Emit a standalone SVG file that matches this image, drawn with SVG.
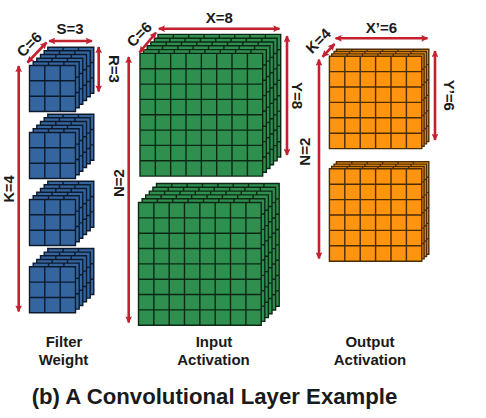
<svg xmlns="http://www.w3.org/2000/svg" xmlns:xlink="http://www.w3.org/1999/xlink" width="486" height="418" viewBox="0 0 486 418">
<style>
text{font-family:"Liberation Sans",Arial,sans-serif;font-size:15px;font-weight:bold;fill:#1a1a1a;text-anchor:middle}
.title{font-size:22.200px}
.arrow{stroke:#c4202f;stroke-width:2.600;fill:none;marker-start:url(#h);marker-end:url(#h)}
.l{stroke-width:1.400}
.blue{fill:#34659f;stroke:#0d1a2c}
.green{fill:#2f8f4f;stroke:#0c2815}
.orange{fill:#ff9410;stroke:#4a2c05}
</style>
<defs>
<marker id="h" viewBox="0 0 10 10" refX="9" refY="5" markerWidth="3" markerHeight="2.600" orient="auto-start-reverse"><path d="M0 0L10 5L0 10L1.500 5Z" fill="#c4202f"/></marker>
<g id="b"><path class="l" d="M0 0h46v46h-46zM15.3 0v46M30.7 0v46M0 15.3h46M0 30.7h46"/></g>
<g id="g"><path class="l" d="M0 0h122.700v122.700h-122.700zM15.340 0v122.700M30.680 0v122.700M46 0v122.700M61.350 0v122.700M76.700 0v122.700M92 0v122.700M107.400 0v122.700M0 15.340h122.700M0 30.680h122.700M0 46h122.700M0 61.350h122.700M0 76.700h122.700M0 92h122.700M0 107.400h122.700"/></g>
<g id="o"><path class="l" d="M0 0h92.400v92.400h-92.400zM15.400 0v92.400M30.800 0v92.400M46.200 0v92.400M61.600 0v92.400M77 0v92.400M0 15.400h92.400M0 30.800h92.400M0 46.200h92.400M0 61.600h92.400M0 77h92.400"/></g>
<g id="bs"><use href="#b" x="18.300" y="-18.300"/><use href="#b" x="14.700" y="-14.700"/><use href="#b" x="11" y="-11"/><use href="#b" x="7.300" y="-7.300"/><use href="#b" x="3.700" y="-3.700"/><use href="#b"/></g>
<g id="gs"><use href="#g" x="18" y="-19"/><use href="#g" x="14.400" y="-15.200"/><use href="#g" x="10.800" y="-11.400"/><use href="#g" x="7.200" y="-7.600"/><use href="#g" x="3.600" y="-3.800"/><use href="#g"/></g>
<g id="os"><use href="#o" x="7" y="-7"/><use href="#o" x="4.700" y="-4.700"/><use href="#o" x="2.300" y="-2.300"/><use href="#o"/></g>
</defs>
<rect width="486" height="418" fill="#fff"/>
<g id="filter-weight" class="blue">
<use href="#bs" x="29.500" y="65.500"/><use href="#bs" x="29.500" y="132.500"/><use href="#bs" x="29.500" y="199.500"/><use href="#bs" x="29.500" y="266.800"/>
</g>
<g id="input-activation" class="green">
<use href="#gs" x="140" y="53.400"/><use href="#gs" x="138.500" y="202.500"/>
</g>
<g id="output-activation" class="orange">
<use href="#os" x="329.400" y="56.200"/><use href="#os" x="329.400" y="168.800"/>
</g>
<g id="connectors">
<line class="arrow" x1="49" y1="41" x2="92" y2="41"/>
<line class="arrow" x1="27.500" y1="62.500" x2="46.500" y2="42.500"/>
<line class="arrow" x1="98.700" y1="47" x2="98.700" y2="91.500"/>
<line class="arrow" x1="18.700" y1="66" x2="18.700" y2="311.500"/>
<line class="arrow" x1="128.700" y1="57" x2="128.700" y2="322.500"/>
<line class="arrow" x1="158.800" y1="28.700" x2="279.500" y2="28.700"/>
<line class="arrow" x1="139.500" y1="52.500" x2="156" y2="32.500"/>
<line class="arrow" x1="287" y1="36" x2="287" y2="155"/>
<line class="arrow" x1="335.500" y1="38.300" x2="427.500" y2="38.300"/>
<line class="arrow" x1="322.500" y1="56.800" x2="334.500" y2="44"/>
<line class="arrow" x1="435" y1="51" x2="435" y2="140"/>
<line class="arrow" x1="319" y1="59.500" x2="319" y2="258.500"/>
</g>
<g id="labels">
<text x="70" y="33.500">S=3</text>
<text transform="translate(33 48) rotate(-45)">C=6</text>
<text transform="translate(108.500 69) rotate(90)">R=3</text>
<text transform="translate(13.500 189) rotate(-90)" style="font-size:14.500px">K=4</text>
<text transform="translate(124 183) rotate(-90)">N=2</text>
<text x="219.300" y="22.700">X=8</text>
<text transform="translate(143 38) rotate(-45)">C=6</text>
<text transform="translate(292 95.500) rotate(90)">Y=8</text>
<text x="381.500" y="32.700">X’=6</text>
<text transform="translate(322 44.500) rotate(-45)">K=4</text>
<text transform="translate(443.500 95.300) rotate(90)">Y’=6</text>
<text transform="translate(310 151.700) rotate(-90)">N=2</text>
<text x="64" y="347">Filter</text>
<text x="63.500" y="365">Weight</text>
<text x="214" y="347">Input</text>
<text x="213.500" y="365">Activation</text>
<text x="370" y="347">Output</text>
<text x="370" y="365">Activation</text>
<text class="title" x="214.500" y="404">(b) A Convolutional Layer Example</text>
</g>
</svg>
